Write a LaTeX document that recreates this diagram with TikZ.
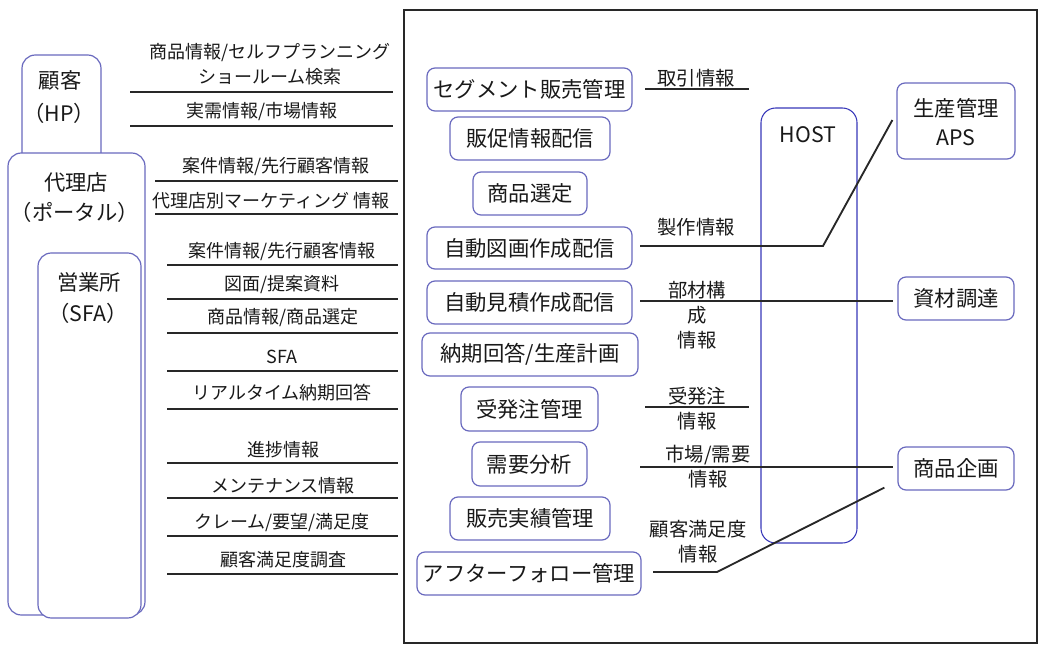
\documentclass[tikz,border=0pt]{standalone}
\usepackage{fontspec}
\setmainfont{Noto Sans CJK JP}
\usetikzlibrary{fit}
\definecolor{boxc}{RGB}{105,105,190}
\definecolor{hostc}{RGB}{55,55,185}
\definecolor{linec}{RGB}{40,40,40}
\definecolor{txtc}{RGB}{25,25,25}
\tikzset{
  bx/.style={draw=boxc, line width=0.9pt, rounded corners=6pt, fill=white, inner sep=0pt},
  bigbx/.style={bx, rounded corners=10pt},
  hostbx/.style={draw=hostc, line width=0.8pt, rounded corners=11pt, inner sep=0pt},
  lbl/.style={inner sep=0pt, text=txtc, font=\fontsize{13.5}{16}\selectfont},
  rlbl/.style={inner sep=0pt, text=txtc, align=center, font=\fontsize{14.5}{18.75}\selectfont},
  btxt/.style={inner sep=0pt, text=txtc, font=\fontsize{16}{19}\selectfont},
  conn/.style={draw=linec, line width=1.4pt},
  framebx/.style={draw=linec, line width=1.2pt, inner sep=0pt},
}
\begin{document}
\begin{tikzpicture}[x=0.75pt,y=-0.75pt]
\useasboundingbox (0,0) rectangle (1040,646);
% frame
\node[framebx, fit={(404,10) (1037,643)}] (sys) {};
% left boxes
\node[bigbx, fit={(22,55) (101,200)}] (kokyaku) {};
\node[bigbx, fit={(8,153) (145,615)}] (dairiten) {};
\node[bigbx, fit={(38,253) (141,618)}] (eigyo) {};
\node[btxt] (t1) at (60,80) {顧客};
\node[btxt] (t2) at (59,113) {（HP）};
\node[btxt] (t3) at (76,182) {代理店};
\node[btxt] (t4) at (75,212) {（ポータル）};
\node[btxt] (t5) at (89,282) {営業所};
\node[btxt] (t6) at (88,313) {（SFA）};
% left labels and lines
\coordinate (a1) at (130,92);  \coordinate (b1) at (393,92);
\coordinate (a2) at (130,126); \coordinate (b2) at (393,126);
\coordinate (a3) at (155,181); \coordinate (b3) at (398,181);
\coordinate (a4) at (155,214); \coordinate (b4) at (398,214);
\coordinate (a5) at (167,265); \coordinate (b5) at (398,265);
\coordinate (a6) at (167,299); \coordinate (b6) at (398,299);
\coordinate (a7) at (167,333); \coordinate (b7) at (398,333);
\coordinate (a8) at (167,371); \coordinate (b8) at (398,371);
\coordinate (a9) at (167,409); \coordinate (b9) at (398,409);
\coordinate (a10) at (167,463); \coordinate (b10) at (398,463);
\coordinate (a11) at (167,498); \coordinate (b11) at (398,498);
\coordinate (a12) at (167,536); \coordinate (b12) at (398,536);
\coordinate (a13) at (167,574); \coordinate (b13) at (398,574);
\foreach \i in {1,...,13} {\draw[conn] (a\i) -- (b\i);}
\node[lbl] (l1a) at (270,53) {商品情報/セルフプランニング};
\node[lbl] (l1b) at (270,77) {ショールーム検索};
\node[lbl] (l2) at (262,112) {実需情報/市場情報};
\node[lbl] (l3) at (276,167) {案件情報/先行顧客情報};
\node[lbl] (l4) at (271,201) {代理店別マーケティング 情報};
\node[lbl] (l5) at (282,252) {案件情報/先行顧客情報};
\node[lbl] (l6) at (282,285) {図面/提案資料};
\node[lbl] (l7) at (283,318) {商品情報/商品選定};
\node[lbl] (l8) at (282,357) {SFA};
\node[lbl] (l9) at (282,393) {リアルタイム納期回答};
\node[lbl] (l10) at (283,450) {進捗情報};
\node[lbl] (l11) at (283,486) {メンテナンス情報};
\node[lbl] (l12) at (282,523) {クレーム/要望/満足度};
\node[lbl] (l13) at (283,560) {顧客満足度調査};
% HOST
\node[hostbx, fit={(761,108) (857,543)}] (host) {};
\node[btxt] (hostt) at (808,135) {HOST};
% middle boxes
\node[bx, fit={(427,68) (632,111)}, label={[btxt]center:セグメント販売管理}] (m1) {};
\node[bx, fit={(450,117) (610,160)}, label={[btxt]center:販促情報配信}] (m2) {};
\node[bx, fit={(473,172) (587,215)}, label={[btxt]center:商品選定}] (m3) {};
\node[bx, fit={(427,227) (632,269)}, label={[btxt]center:自動図画作成配信}] (m4) {};
\node[bx, fit={(427,281) (632,324)}, label={[btxt]center:自動見積作成配信}] (m5) {};
\node[bx, fit={(422,333) (638,376)}, label={[btxt]center:納期回答/生産計画}] (m6) {};
\node[bx, fit={(461,387) (598,431)}, label={[btxt]center:受発注管理}] (m7) {};
\node[bx, fit={(472,442) (587,486)}, label={[btxt]center:需要分析}] (m8) {};
\node[bx, fit={(450,497) (610,540)}, label={[btxt]center:販売実績管理}] (m9) {};
\node[bx, fit={(417,552) (641,595)}, label={[btxt]center:アフターフォロー管理}] (m10) {};
% right boxes
\node[bx, fit={(897,83) (1015,159)}] (aps) {};
\node[btxt] (apst1) at (956,108) {生産管理};
\node[btxt] (apst2) at (956,138) {APS};
\node[bx, fit={(898,277) (1014,320)}, label={[btxt]center:資材調達}] (shizai) {};
\node[bx, fit={(898,447) (1014,490)}, label={[btxt]center:商品企画}] (kikaku) {};
% right connectors
\coordinate (r1a) at (645,89);  \coordinate (r1b) at (749,89);
\draw[conn] (r1a) -- (r1b);
\coordinate (r2a) at (640,246); \coordinate (r2b) at (823,246);
\draw[conn] (r2a) -- (r2b) -- ([xshift=-3pt,yshift=0.75pt]aps.west);
\coordinate (r3a) at (640,301);
\draw[conn] (r3a) -- ([xshift=-3.5pt]shizai.west |- r3a);
\coordinate (r4a) at (645,407); \coordinate (r4b) at (749,407);
\draw[conn] (r4a) -- (r4b);
\coordinate (r5a) at (640,467);
\draw[conn] (r5a) -- ([xshift=-3.5pt]kikaku.west |- r5a);
\coordinate (r6a) at (653,572); \coordinate (r6b) at (717,572);
\draw[conn] (r6a) -- (r6b) -- ([xshift=-9.75pt,yshift=2.25pt]kikaku.south west);
\node[rlbl] (rl1) at (696,78) {取引情報};
\node[rlbl] (rl2) at (696,227) {製作情報};
\node[rlbl] (rl3) at (697,315) {部材構\\成\\情報};
\node[rlbl] (rl4) at (697,409) {受発注\\情報};
\node[rlbl] (rl5) at (708,467) {市場/需要\\情報};
\node[rlbl] (rl6) at (698,542) {顧客満足度\\情報};
\end{tikzpicture}
\end{document}
